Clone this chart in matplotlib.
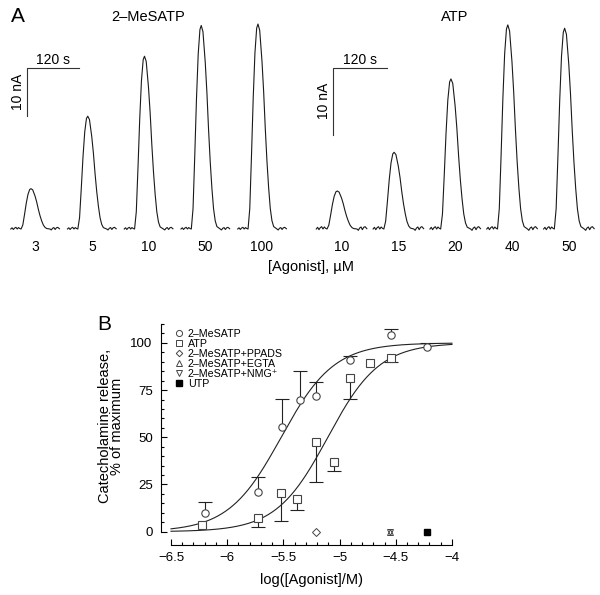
import numpy as np
import matplotlib.pyplot as plt
from matplotlib.lines import Line2D
from matplotlib.transforms import blended_transform_factory

plt.rcParams['font.family'] = ['Liberation Sans', 'DejaVu Sans']

# ---- panel A: peak currents (nA) ----
mesatp_conc = ['3', '5', '10', '50', '100']
mesatp_peak = [8.4, 23.5, 36.0, 42.4, 42.7]
atp_conc = ['10', '15', '20', '40', '50']
atp_peak = [5.7, 11.5, 22.5, 30.6, 30.1]

# normalised shape of one response (time in s from the peak)
shape_t = [-23, -19, -15, -11, -7, -3, 0, 4, 9.3, 13.2, 17, 20.9, 24.8, 28.6, 32.5, 36.4, 44]
shape_v = [0, 0.10, 0.36, 0.64, 0.86, 0.98, 1, 0.97, 0.82, 0.67, 0.49, 0.33, 0.20, 0.10, 0.04, 0.012, 0]
# baseline wiggle before / after the response (nA)
pre_t = [-47, -44, -41, -38, -35, -32, -29, -26]
pre_v = [0, 0.25, -0.1, 0.2, 0.35, 0.0, 0.3, 0.1]
post_t = [47, 50, 53, 56, 59, 62, 66]
post_v = [-0.2, 0.15, 0.3, -0.1, 0.25, 0.35, 0.05]

# ---- panel B: concentration-response ----
mes_x = [-6.2, -5.73, -5.51, -5.35, -5.21, -4.91, -4.54, -4.22]
mes_y = [9.7, 20.9, 55.6, 69.8, 71.7, 91.0, 104.4, 97.6]
mes_err = [6.2, 7.9, 14.6, 15.2, 7.5, 2.3, 3.0, 2.5]

atp_x = [-6.22, -5.73, -5.52, -5.38, -5.21, -5.05, -4.91, -4.73, -4.54]
atp_y = [3.3, 7.5, 20.7, 17.5, 47.7, 37.1, 81.6, 89.2, 92.0]
atp_err = [0, 5.2, 15.2, 6.2, 21.5, 4.9, 11.4, 0, 2.1]

ppads_x, ppads_y = [-5.21], [0]
egta_x, egta_y = [-4.55], [0]
nmg_x, nmg_y = [-4.55], [0]
utp_x, utp_y = [-4.22], [0]

# Hill fits
mes_ec50, mes_nh = -5.52, 1.85
atp_ec50, atp_nh = -5.105, 1.89

W, H = 600, 595
fig = plt.figure(figsize=(6, 5.95), dpi=100)


def px_axes(x0, y0, x1, y1):
    return fig.add_axes([x0 / W, 1 - y1 / H, (x1 - x0) / W, (y1 - y0) / H])


def draw_group(x0, x1, peaks, concs, s_px, na_px, first_px, spacing):
    ax = px_axes(x0, 0, x1, 290)
    base_px = 229
    ax.set_xlim((x0 - first_px) * s_px, (x1 - first_px) * s_px)
    ax.set_ylim(-(290 - base_px) * na_px, base_px * na_px)
    ax.axis('off')
    tr = blended_transform_factory(ax.transData, ax.transAxes)
    for i, (amp, c) in enumerate(zip(peaks, concs)):
        off = i * spacing
        t = np.array(pre_t + shape_t + post_t) + off
        v = np.array(pre_v + list(amp * np.array(shape_v)) + post_v)
        ax.plot(t, v, color='#1a1a1a', lw=0.8)
        ax.text(off + 9.5, (290 - 247) / 290, c, transform=tr,
                ha='center', va='center', fontsize=10)
    # scale bars: 120 s, 10 nA
    top = (base_px - 68) * na_px
    bx = -9
    ax.plot([bx, bx, bx + 120], [top - 10, top, top], color='#333333', lw=0.8)
    ax.text(bx + 60, top + 1.5 * na_px, '120 s', ha='center', va='bottom', fontsize=10)
    ax.text(bx - 2.5 * s_px, top - 5, '10 nA', rotation=90,
            ha='right', va='center', fontsize=10)
    return ax


draw_group(0, 300, mesatp_peak, mesatp_conc, 120 / 51.7, 10 / 48.0, 31, 131.7)
draw_group(300, 600, atp_peak, atp_conc, 120 / 53.7, 10 / 66.7, 337.3, 127.0)
fig.text(148 / W, 1 - 17 / H, '2–MeSATP', ha='center', va='center', fontsize=10.5)
fig.text(455 / W, 1 - 17 / H, 'ATP', ha='center', va='center', fontsize=10.5)
fig.text(311 / W, 1 - 267 / H, '[Agonist], µM', ha='center', va='center', fontsize=10.5)
fig.text(18 / W, 1 - 17 / H, 'A', ha='center', va='center', fontsize=15)

# ---- panel B ----
ax = px_axes(161, 318, 455, 545)
ax.set_xlim(-6.589, -3.973)
ax.set_ylim(-7.05, 113.2)

xs = np.linspace(-6.5, -4, 300)
ax.plot(xs, 100 / (1 + 10 ** (mes_nh * (mes_ec50 - xs))), color='#222222', lw=0.8)
ax.plot(xs, 100 / (1 + 10 ** (atp_nh * (atp_ec50 - xs))), color='#222222', lw=0.8)

mc = '#444444'
# one-sided error bars: up for 2-MeSATP, down for ATP
mx, my, me = np.array(mes_x), np.array(mes_y), np.array(mes_err)
m = me > 0
ax.vlines(mx[m], my[m], my[m] + me[m], color='#222222', lw=0.8)
ax.plot(mx[m], my[m] + me[m], ls='none', marker='_', ms=10, mew=0.8, color='#222222')
axx, ay, ae = np.array(atp_x), np.array(atp_y), np.array(atp_err)
m = ae > 0
ax.vlines(axx[m], ay[m] - ae[m], ay[m], color='#222222', lw=0.8)
ax.plot(axx[m], ay[m] - ae[m], ls='none', marker='_', ms=10, mew=0.8, color='#222222')

ax.plot(mes_x, mes_y, ls='none', marker='o', ms=5.3, mfc='white', mec=mc, mew=0.8, zorder=3)
ax.plot(atp_x, atp_y, ls='none', marker='s', ms=5.2, mfc='white', mec=mc, mew=0.8, zorder=3)
ax.plot(ppads_x, ppads_y, ls='none', marker='D', ms=3.6, mfc='white', mec=mc, mew=0.7, zorder=3)
ax.plot(egta_x, egta_y, ls='none', marker='^', ms=4.6, mfc='none', mec=mc, mew=0.7, zorder=3)
ax.plot(nmg_x, nmg_y, ls='none', marker='v', ms=4.6, mfc='none', mec=mc, mew=0.7, zorder=3)
ax.plot(utp_x, utp_y, ls='none', marker='s', ms=4.8, mfc='black', mec='black', zorder=3)

for s in ['top', 'right']:
    ax.spines[s].set_visible(False)
ax.spines['left'].set_bounds(0, 110)
ax.spines['bottom'].set_bounds(-6.5, -4)
for s in ['left', 'bottom']:
    ax.spines[s].set_linewidth(0.8)
ax.set_xticks(np.arange(-6.5, -3.99, 0.5))
ax.set_xticks(np.arange(-6.5, -3.99, 0.1), minor=True)
ax.set_xticklabels(['−6.5', '−6', '−5.5', '−5', '−4.5', '−4'])
ax.set_yticks(np.arange(0, 101, 25))
ax.set_yticks(np.arange(0, 111, 5), minor=True)
ax.tick_params(which='both', direction='in', width=0.8, labelsize=9.5)
ax.tick_params(which='major', length=4)
ax.tick_params(which='minor', length=2.2)
ax.tick_params(axis='y', pad=6)
ax.tick_params(axis='x', pad=5)

legend_handles = [
    Line2D([], [], ls='none', marker='o', ms=4.4, mfc='white', mec=mc, mew=0.7),
    Line2D([], [], ls='none', marker='s', ms=4.4, mfc='white', mec=mc, mew=0.7),
    Line2D([], [], ls='none', marker='D', ms=3.3, mfc='white', mec=mc, mew=0.7),
    Line2D([], [], ls='none', marker='^', ms=4.4, mfc='white', mec=mc, mew=0.7),
    Line2D([], [], ls='none', marker='v', ms=4.4, mfc='white', mec=mc, mew=0.7),
    Line2D([], [], ls='none', marker='s', ms=4.4, mfc='black', mec='black'),
]
legend_labels = ['2–MeSATP', 'ATP', '2–MeSATP+PPADS', '2–MeSATP+EGTA',
                 '2–MeSATP+NMG⁺', 'UTP']
ax.legend(legend_handles, legend_labels, loc='upper left',
          bbox_to_anchor=(175 / W, 1 - 329 / H), bbox_transform=fig.transFigure,
          frameon=False, fontsize=7.7, borderpad=0, borderaxespad=0,
          handlelength=0.8, handletextpad=0.4, labelspacing=0.0)

fig.text(104 / W, 1 - 325 / H, 'B', ha='center', va='center', fontsize=15)
fig.text(111 / W, 1 - 426 / H, 'Catecholamine release,\n% of maximum', rotation=90,
         ha='center', va='center', fontsize=10.5, linespacing=0.9, multialignment='center')
fig.text(311.7 / W, 1 - 580 / H, 'log([Agonist]/M)', ha='center', va='center', fontsize=10.5)

fig.savefig('out.png', dpi=100)
